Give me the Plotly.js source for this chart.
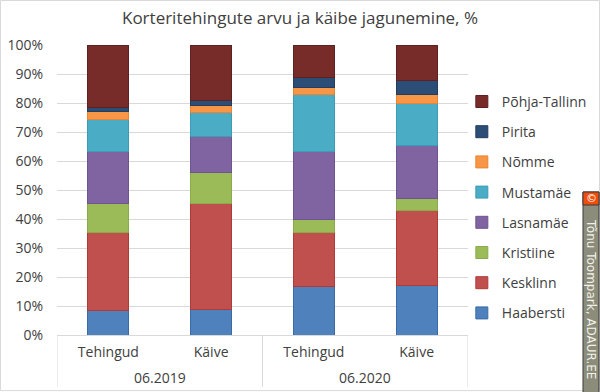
<!DOCTYPE html>
<html><head><meta charset="utf-8">
<script src="https://cdn.plot.ly/plotly-3.0.1.min.js"></script>
<style>html,body{margin:0;padding:0;background:#fff}#c{width:600px;height:392px}</style>
</head><body><div id="c"></div>
<script>
const periods = ["06.2019", "06.2019", "06.2020", "06.2020"];
const measures = ["Tehingud", "Käive", "Tehingud", "Käive"];
const periodGroups = ["06.2019", "06.2020"];
const districts = ["Haabersti", "Kesklinn", "Kristiine", "Lasnamäe", "Mustamäe", "Nõmme", "Pirita", "Põhja-Tallinn"];
const haabersti = [8.3, 8.7, 16.7, 17.2];
const kesklinn = [27.2, 36.6, 18.6, 25.6];
const kristiine = [9.8, 10.7, 4.7, 4.1];
const lasnamae = [18.1, 12.6, 23.2, 18.4];
const mustamae = [10.9, 8.0, 19.9, 14.6];
const nomme = [2.7, 2.7, 2.4, 3.1];
const pirita = [1.3, 1.4, 3.2, 4.6];
const pohjaTallinn = [21.7, 19.3, 11.3, 12.4];
const seriesValues = [haabersti, kesklinn, kristiine, lasnamae, mustamae, nomme, pirita, pohjaTallinn];
const colors = ["#4F81BD", "#C0504D", "#9BBB59", "#8064A2", "#4BACC6", "#F79646", "#2C4D75", "#772C2A"];
const lineColors = ["#3a6aa8", "#b03a37", "#8aac48", "#6e5490", "#3b9cb6", "#e98530", "#223d5e", "#5e2020"];
const yTicks = [0, 10, 20, 30, 40, 50, 60, 70, 80, 90, 100];
const yTickText = yTicks.map(v => v + "%");

const font = "Open Sans, Noto Sans, sans-serif";
const xKeys = periods.map((p, i) => p + " " + measures[i]);
const traces = districts.map((name, i) => ({
  type: "bar",
  name: name,
  x: xKeys,
  y: seriesValues[i],
  legendgroup: name,
  legendrank: 100 - i,
  marker: {color: colors[i], line: {color: lineColors[i], width: 1}},
  hoverinfo: "skip"
}));

// group dividers at category boundaries, group labels centred under each pair
const dividerShapes = [-0.5, 1.5, 3.5].map(xv => ({
  type: "line", xref: "x", yref: "paper", x0: xv, x1: xv, y0: 0, y1: -0.179,
  line: {color: "#d9d9d9", width: 1}
}));
const groupAnnotations = periodGroups.map((g, k) => ({
  xref: "x", yref: "paper", x: 2 * k + 0.5, y: -0.145, xanchor: "center", yanchor: "middle",
  text: g, showarrow: false, font: {family: font, size: 14, color: "#404040"}
}));

const layout = {
  width: 600, height: 392,
  margin: {l: 57, r: 132, t: 45, b: 57, autoexpand: false},
  barmode: "stack",
  bargap: 0.6,
  paper_bgcolor: "#fff", plot_bgcolor: "#fff",
  font: {family: font, color: "#404040", size: 14},
  title: {text: "Korteritehingute arvu ja käibe jagunemine, %", font: {family: font, size: 17, color: "#404040"}, x: 0.5, xref: "container", xanchor: "center", y: 0.955, yanchor: "middle"},
  xaxis: {type: "category", range: [-0.5, 3.5], tickvals: xKeys, ticktext: measures,
          showline: true, linecolor: "#d9d9d9", linewidth: 1, ticklabelstandoff: 4,
          tickfont: {family: font, size: 14, color: "#404040"}, ticks: "", showgrid: false},
  yaxis: {range: [0, 100], tickvals: yTicks, ticktext: yTickText, showgrid: true, gridcolor: "#d9d9d9",
          zeroline: false, showline: false, tickfont: {family: font, size: 14, color: "#404040"}, ticklabelstandoff: 13},
  legend: {traceorder: "grouped", tracegroupgap: 9, x: 0.985, xanchor: "left", y: 0.44, yanchor: "middle",
           bgcolor: "rgba(0,0,0,0)", font: {family: font, size: 14, color: "#404040"}, itemwidth: 30},
  shapes: dividerShapes.concat([
    {type: "rect", xref: "paper", yref: "paper", x0: -0.1375, x1: 1.32, y0: -0.1917, y1: 1.1534,
     line: {color: "#d9d9d9", width: 1}},
    {type: "rect", xref: "paper", yref: "paper", x0: 1.2798, x1: 1.3187, y0: -0.2, y1: 0.4931,
     fillcolor: "#8c8c7a", line: {color: "#3a3a3a", width: 1}},
    {type: "rect", xref: "paper", yref: "paper", x0: 1.2798, x1: 1.3187, y0: 0.4483, y1: 0.4931,
     fillcolor: "#f04e0c", line: {color: "#3a3a3a", width: 1}}
  ]),
  annotations: groupAnnotations.concat([
    {xref: "paper", yref: "paper", x: 1.2993, y: 0.124, xanchor: "center", yanchor: "middle", text: "Tõnu Toompark, ADAUR.EE",
     textangle: 90, showarrow: false, font: {family: "DejaVu Sans", size: 12, color: "#f2f2ea"}},
    {xref: "paper", yref: "paper", x: 1.2993, y: 0.4707, xanchor: "center", yanchor: "middle", text: "©",
     showarrow: false, font: {family: "DejaVu Sans", size: 11, color: "#ffffff"}}
  ])
};
Plotly.newPlot("c", traces, layout, {displayModeBar: false, staticPlot: true});
</script></body></html>
